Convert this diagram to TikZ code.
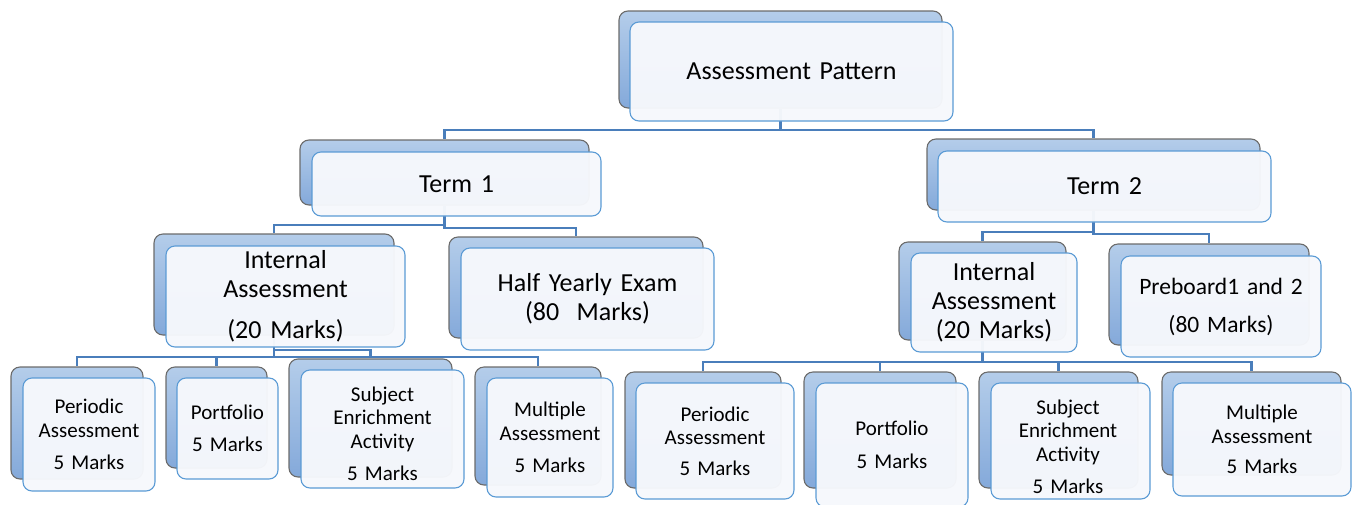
\documentclass[tikz,border=0pt]{standalone}
\usepackage{fontspec}
\setmainfont{Carlito}
\definecolor{backtop}{HTML}{B4CDEA}
\definecolor{backbot}{HTML}{84A9DA}
\definecolor{backedge}{HTML}{6B6B6B}
\definecolor{frontedge}{HTML}{5B9BD5}
\definecolor{frontfill}{HTML}{F6F8FC}
\definecolor{conncol}{HTML}{4A7EBB}
\tikzset{
  backbox/.style={draw=backedge, line width=1.1pt, rounded corners=9pt,
    top color=backtop, bottom color=backbot, inner sep=0pt},
  frontbox/.style={draw=frontedge, line width=1.1pt, rounded corners=9pt,
    fill=frontfill, fill opacity=0.97, text opacity=1, inner sep=0pt, align=center},
  conn/.style={draw=conncol, line width=2.4pt},
  bigtxt/.style={font=\fontsize{26}{29}\selectfont},
  midtxt/.style={font=\fontsize{23.5}{29}\selectfont},
  smalltxt/.style={font=\fontsize{21}{23.5}\selectfont},
  plaintxt/.style={inner sep=0pt, align=center},
}
\begin{document}
\begin{tikzpicture}[x=1pt,y=-1pt]
\useasboundingbox (0,0) rectangle (1352,504);
% bar levels
\coordinate (yA) at (0,130);
\coordinate (yB1) at (0,225);
\coordinate (yB2) at (0,228);
\coordinate (yC1) at (0,232);
\coordinate (yC2) at (0,234);
\coordinate (yD1) at (0,357);
\coordinate (yD2) at (0,350);
\coordinate (yE) at (0,362);

% back boxes
\path
  (780.5,59.5) node[backbox,minimum width=323pt,minimum height=97pt] (APb) {}
  (444.5,172.5) node[backbox,minimum width=289pt,minimum height=65pt] (T1b) {}
  (1093.5,174.5) node[backbox,minimum width=333pt,minimum height=71pt] (T2b) {}
  (274,284.5) node[backbox,minimum width=240pt,minimum height=101pt] (IA1b) {}
  (576,287.5) node[backbox,minimum width=254pt,minimum height=101pt] (HYb) {}
  (982.5,291) node[backbox,minimum width=167pt,minimum height=98pt] (IA2b) {}
  (1209,294.5) node[backbox,minimum width=200pt,minimum height=101pt] (PBb) {}
  (77,423) node[backbox,minimum width=132pt,minimum height=112pt] (P1b) {}
  (216.5,417.5) node[backbox,minimum width=101pt,minimum height=101pt] (PF1b) {}
  (370.5,418) node[backbox,minimum width=163pt,minimum height=118pt] (SEA1b) {}
  (538,426) node[backbox,minimum width=126pt,minimum height=118pt] (MA1b) {}
  (703,430) node[backbox,minimum width=156pt,minimum height=116pt] (P2b) {}
  (880,430) node[backbox,minimum width=152pt,minimum height=116pt] (PF2b) {}
  (1058.5,430) node[backbox,minimum width=159pt,minimum height=116pt] (SEA2b) {}
  (1251.5,423.5) node[backbox,minimum width=179pt,minimum height=103pt] (MA2b) {};

% connectors
\draw[conn] (APb.south) -- (APb.south |- yA) -| (T1b.north);
\draw[conn] (APb.south) -- (APb.south |- yA) -| (T2b.north);
\draw[conn] (T1b.south) -- (T1b.south |- yB1) -| (IA1b.north);
\draw[conn] (T1b.south |- yB1) -- (T1b.south |- yB2) -| (HYb.north);
\draw[conn] (T2b.south) -- (T2b.south |- yC1) -| (IA2b.north);
\draw[conn] (T2b.south |- yC1) -- (T2b.south |- yC2) -| (PBb.north);
\draw[conn] (IA1b.south) -- (IA1b.south |- yD1) -| (P1b.north);
\draw[conn] (IA1b.south |- yD1) -| (PF1b.north);
\draw[conn] (IA1b.south |- yD2) -| (SEA1b.north);
\draw[conn] (IA1b.south |- yD1) -| (MA1b.north);
\draw[conn] (IA2b.south) -- (IA2b.south |- yE) -| (P2b.north);
\draw[conn] (IA2b.south |- yE) -| (PF2b.north);
\draw[conn] (IA2b.south |- yE) -| (SEA2b.north);
\draw[conn] (IA2b.south |- yE) -| (MA2b.north);

% front boxes with text
\node[frontbox,bigtxt,minimum width=323pt,minimum height=99pt,text width=300pt] (AP) at (791.5,71.5) {Assessment Pattern};
\node[frontbox,bigtxt,minimum width=289pt,minimum height=64pt,text width=270pt] (T1) at (456.5,184) {Term 1};
\node[frontbox,bigtxt,minimum width=333pt,minimum height=71pt,text width=310pt] (T2) at (1104.5,186.5) {Term 2};
\node[frontbox,bigtxt,minimum width=239pt,minimum height=101pt,text width=225pt] (IA1) at (285.5,296.5) {Internal\\Assessment\\[12pt](20 Marks)};
\node[frontbox,bigtxt,minimum width=253pt,minimum height=102pt,text width=240pt] (HY) at (587.5,299) {Half Yearly Exam\\(80\ \ Marks)};
\node[frontbox,bigtxt,minimum width=166pt,minimum height=99pt,text width=160pt] (IA2) at (994,302.5) {Internal\\Assessment\\(20 Marks)};
\node[frontbox,midtxt,minimum width=200pt,minimum height=101pt,text width=190pt] (PB) at (1221,306.5) {Preboard1 and 2\\[9pt](80 Marks)};
\node[frontbox,smalltxt,minimum width=132pt,minimum height=113pt,text width=125pt] (P1) at (89,434.5) {Periodic\\Assessment\\[8.5pt]5 Marks};
\node[frontbox,smalltxt,minimum width=101pt,minimum height=101pt,text width=96pt] (PF1) at (227.5,428.5) {Portfolio\\[8.5pt]5 Marks};
\node[frontbox,minimum width=163pt,minimum height=118pt] (SEA1) at (382.5,429) {};
\node[plaintxt,smalltxt,text width=150pt] (SEA1t) at (382.5,434) {Subject\\Enrichment\\Activity\\[9pt]5 Marks};
\node[frontbox,smalltxt,minimum width=126pt,minimum height=119pt,text width=120pt] (MA1) at (550,437.5) {Multiple\\Assessment\\[9pt]5 Marks};
\node[frontbox,smalltxt,minimum width=158pt,minimum height=116pt,text width=150pt] (P2) at (715,441) {Periodic\\Assessment\\[7pt]5 Marks};
\node[frontbox,smalltxt,minimum width=152pt,minimum height=124pt,text width=145pt] (PF2) at (892,445) {Portfolio\\[10pt]5 Marks};
\node[frontbox,minimum width=159pt,minimum height=116pt] (SEA2) at (1070.5,441) {};
\node[plaintxt,smalltxt,text width=150pt] (SEA2t) at (1068,447) {Subject\\Enrichment\\Activity\\[9pt]5 Marks};
\node[frontbox,smalltxt,minimum width=178pt,minimum height=113pt,text width=170pt] (MA2) at (1262,439.5) {Multiple\\Assessment\\[7pt]5 Marks};
\end{tikzpicture}
\end{document}
